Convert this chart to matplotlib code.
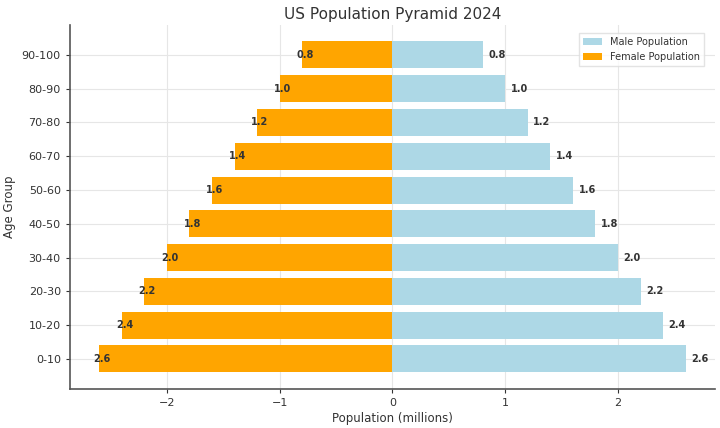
from matplotlib import pyplot as plt
import numpy as np

#################################
# Data
age_groups = ['0-10', '10-20', '20-30', '30-40', '40-50',
              '50-60', '60-70', '70-80', '80-90', '90-100']
male_pop = [2.6, 2.4, 2.2, 2.0, 1.8, 1.6, 1.4, 1.2, 1.0, 0.8]
female_pop = [2.6, 2.4, 2.2, 2.0, 1.8, 1.6, 1.4, 1.2, 1.0, 0.8]
#################################

# font sizes
tt_fs = 11
lb_fs = 8.5
tk_fs = 8
lg_fs = 7
bl_fs = 7

txt_c = '#333333'

fig = plt.figure(figsize=[7.2, 4.28], dpi=100)
ax = fig.add_axes([0.097, 0.091, 0.896, 0.851])

y = np.arange(len(age_groups))
ax.barh(y, male_pop, color='lightblue', label='Male Population', zorder=3)
ax.barh(y, [-v for v in female_pop], color='orange', label='Female Population', zorder=3)

# value labels
for i in range(len(age_groups)):
    ax.text(male_pop[i] + 0.05, y[i], '%.1f' % male_pop[i], ha='left', va='center',
            fontsize=bl_fs, fontweight='bold', color=txt_c, zorder=4)
    ax.text(-female_pop[i] - 0.05, y[i], '%.1f' % female_pop[i], ha='left', va='center',
            fontsize=bl_fs, fontweight='bold', color=txt_c, zorder=4)

ax.set_yticks(y)
ax.set_yticklabels(age_groups)
ax.set_xticks([-2, -1, 0, 1, 2])
ax.set_xticklabels(['\u22122', '\u22121', '0', '1', '2'])

ax.set_title('US Population Pyramid 2024', fontsize=tt_fs, color=txt_c, pad=4)
ax.set_xlabel('Population (millions)', fontsize=lb_fs, color=txt_c, labelpad=3)
ax.set_ylabel('Age Group', fontsize=lb_fs, color=txt_c, labelpad=4)
ax.tick_params(axis='both', labelsize=tk_fs, colors=txt_c, length=3)

ax.grid(True, color='#e6e6e6', lw=0.8, zorder=0)
ax.set_axisbelow(True)
for s in ['top', 'right']:
    ax.spines[s].set_visible(False)
for s in ['left', 'bottom']:
    ax.spines[s].set_color('#555555')
    ax.spines[s].set_linewidth(1.2)

leg = ax.legend(loc='upper right', fontsize=lg_fs, frameon=True, fancybox=False,
                bbox_to_anchor=(0.99, 0.99))
leg.get_frame().set_edgecolor('#dddddd')
for t in leg.get_texts():
    t.set_color(txt_c)

plt.savefig('out.png', dpi=100)
